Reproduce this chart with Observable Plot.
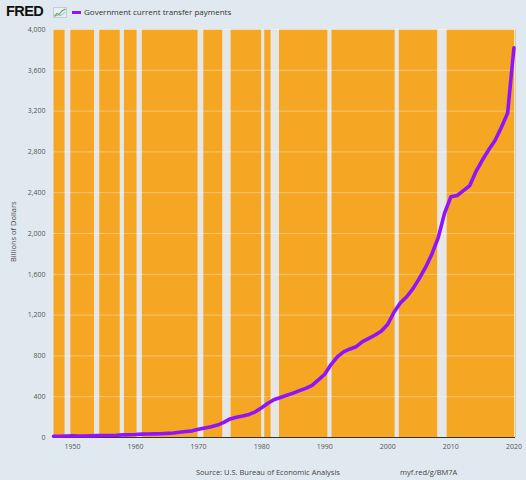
<!DOCTYPE html>
<html><head><meta charset="utf-8">
<script src="https://cdn.jsdelivr.net/npm/d3@7"></script>
<script src="https://cdn.jsdelivr.net/npm/@observablehq/plot@0.6"></script>
<style>
body{margin:0;background:#e1e9f0;font-family:"Open Sans",sans-serif;}
#wrap{position:relative;width:526px;height:480px;overflow:hidden;background:#e1e9f0}
#chart{position:absolute;left:0;top:0}
.t{position:absolute;white-space:nowrap;color:#444}
#logo{left:6px;top:3px;font-family:"Liberation Sans",Arial,sans-serif;font-weight:900;font-size:14.5px;letter-spacing:-0.6px;color:#111;line-height:16px}
#icon{position:absolute;left:53px;top:7px}
#sw{position:absolute;left:72px;top:11px;width:9px;height:3px;background:#9013fe}
#leg{left:84px;top:6px;font-size:8px;color:#333}
#ylab{left:-17px;top:227px;font-size:7.5px;transform:rotate(-90deg);transform-origin:center;width:60px;text-align:center;color:#444}
#src{left:196px;top:467px;font-size:7.5px}
#url{left:400px;top:467px;font-size:7.5px}
</style></head><body>
<div id="wrap">
  <div id="chart"></div>
  <div class="t" id="logo">FRED</div>
  <svg id="icon" width="14" height="11" viewBox="0 0 14 11"><rect x="0.5" y="0.5" width="13" height="10" fill="#e8eef3" stroke="#b9c6d1" stroke-width="0.8"/><polyline points="1.5,9 4,6.5 6,7.5 9,4 12.5,2" fill="none" stroke="#6aa84f" stroke-width="1.1"/><polyline points="1.5,9.5 5,8 8,8.5 12.5,5" fill="none" stroke="#7fa7c9" stroke-width="0.8"/></svg>
  <div id="sw"></div>
  <div class="t" id="leg">Government current transfer payments</div>
  <div class="t" id="ylab">Billions of Dollars</div>
  <div class="t" id="src">Source: U.S. Bureau of Economic Analysis</div>
  <div class="t" id="url">myf.red/g/BM7A</div>
</div>
<script>
const years = [1947,1948,1949,1950,1951,1952,1953,1954,1955,1956,1957,1958,1959,1960,1961,1962,1963,1964,1965,1966,1967,1968,1969,1970,1971,1972,1973,1974,1975,1976,1977,1978,1979,1980,1981,1982,1983,1984,1985,1986,1987,1988,1989,1990,1991,1992,1993,1994,1995,1996,1997,1998,1999,2000,2001,2002,2003,2004,2005,2006,2007,2008,2009,2010,2011,2012,2013,2014,2015,2016,2017,2018,2019,2020];
const values = [12,12,14,17,14,15,16,18,19,20,22,26,27,29,33,34,36,37,40,44,52,59,65,80,94,106,122,148,182,198,210,226,252,292,335,372,392,415,435,460,482,512,565,620,715,790,840,868,890,940,972,1005,1045,1110,1230,1320,1380,1460,1560,1670,1800,1960,2200,2360,2373,2420,2470,2610,2720,2820,2912,3040,3180,3820];
const recessionStart = ["1948-11-01","1953-07-01","1957-08-01","1960-04-01","1969-12-01","1973-11-01","1980-01-01","1981-07-01","1990-07-01","2001-03-01","2007-12-01","2020-02-01"];
const recessionEnd   = ["1949-10-01","1954-05-01","1958-04-01","1961-02-01","1970-11-01","1975-03-01","1980-07-01","1982-11-01","1991-03-01","2001-11-01","2009-06-01","2020-04-01"];
const xTickYears = [1950,1960,1970,1980,1990,2000,2010,2020];
const yTicks = [0,400,800,1200,1600,2000,2400,2800,3200,3600,4000];

const data = years.map((y,i)=>({date:new Date(Date.UTC(y,0,1)), value:values[i]}));
const rec = recessionStart.map((s,i)=>({start:new Date(s+"T00:00:00Z"), end:new Date(recessionEnd[i]+"T00:00:00Z")}));

const chart = Plot.plot({
  width:526, height:480,
  marginTop:29, marginBottom:43, marginLeft:53, marginRight:11,
  style:{background:"transparent", fontFamily:"Open Sans, sans-serif", fontSize:"7px", color:"#555"},
  x:{type:"utc", domain:[new Date("1947-01-01T00:00:00Z"), new Date("2020-04-01T00:00:00Z")],
     ticks:xTickYears.map(y=>new Date(Date.UTC(y,0,1))), tickFormat:d3.utcFormat("%Y"),
     tickSize:0, tickPadding:7, label:null},
  y:{domain:[0,4000], ticks:yTicks, tickFormat:d3.format(","), tickSize:0, tickPadding:8, label:null},
  marks:[
    Plot.frame({fill:"#f5a623", stroke:null}),
    Plot.rect(rec,{x1:"start", x2:"end", fill:"#e6e6e6"}),
    Plot.ruleY(yTicks.filter(d=>d>0),{stroke:"#ffffff", strokeOpacity:0.35, strokeWidth:1}),
    Plot.ruleY([0],{stroke:"#333", strokeWidth:1.2}),
    Plot.line(data,{x:"date", y:"value", stroke:"#9013fe", strokeWidth:3.6, strokeLinejoin:"round"})
  ]
});
document.getElementById("chart").appendChild(chart);
</script>
</body></html>
